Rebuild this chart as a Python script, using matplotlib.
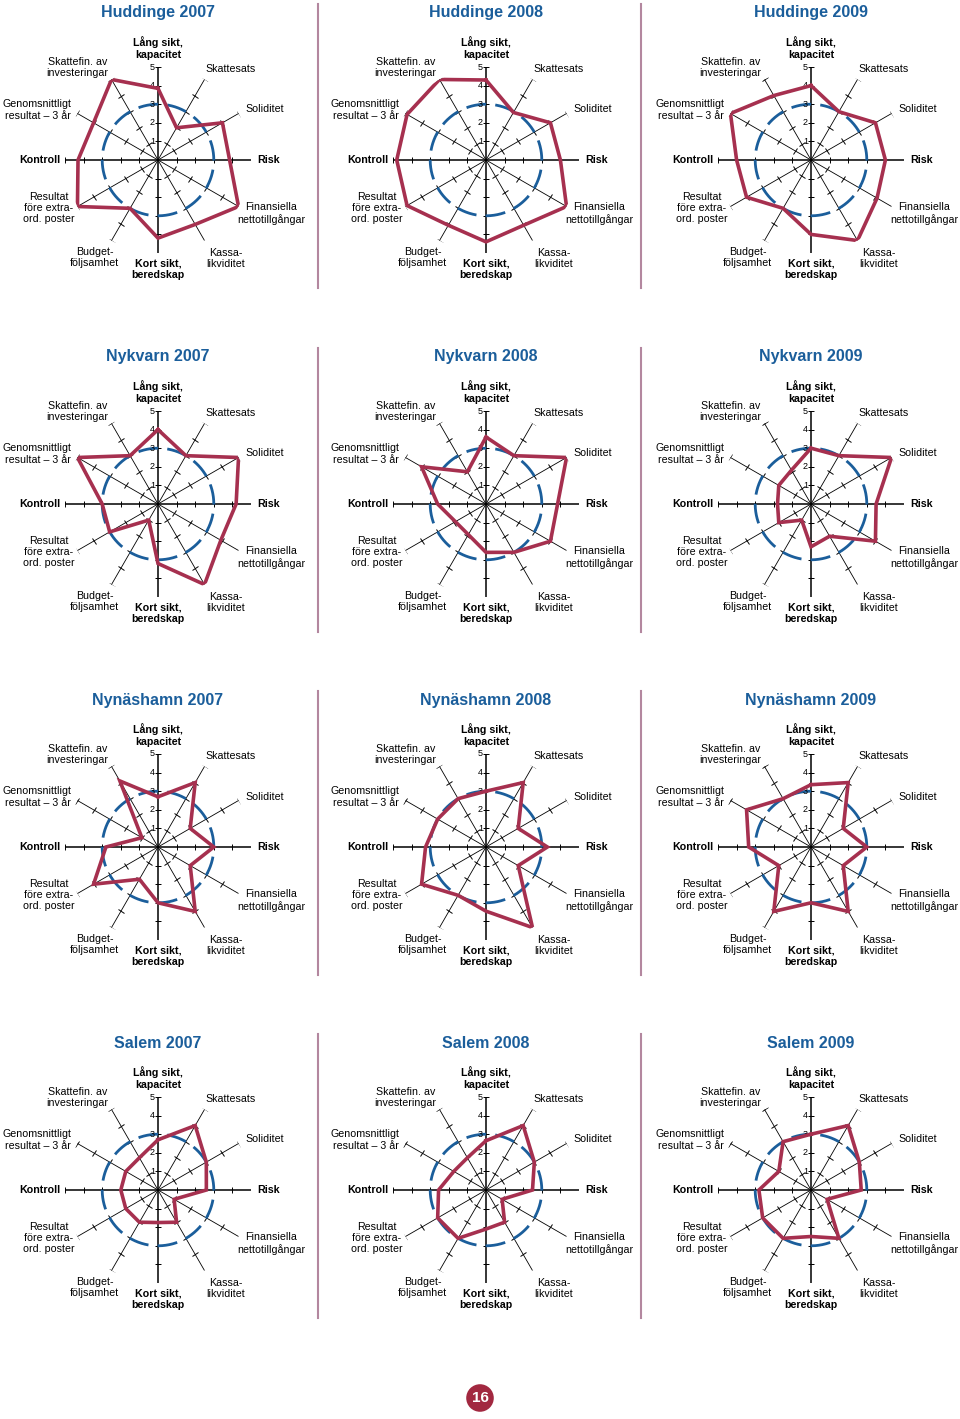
import numpy as np
import matplotlib.pyplot as plt
from matplotlib.markers import MarkerStyle
from matplotlib.transforms import Affine2D
from matplotlib.lines import Line2D

plt.rcParams['font.family'] = ['Liberation Sans', 'DejaVu Sans']

# Axlar i ordning medurs från toppen
kategorier = ['Lång sikt,\nkapacitet', 'Skattesats', 'Soliditet', 'Risk',
              'Finansiella\nnettotillgångar', 'Kassa-\nlikviditet', 'Kort sikt,\nberedskap',
              'Budget-\nföljsamhet', 'Resultat\nföre extra-\nord. poster', 'Kontroll',
              'Genomsnittligt\nresultat – 3 år', 'Skattefin. av\ninvesteringar']
fetstil = [True, False, False, True, False, False, True, False, False, True, False, False]

kommuner = ['Huddinge', 'Nykvarn', 'Nynäshamn', 'Salem']
ar = ['2007', '2008', '2009']
skala = [1, 2, 3, 4, 5]
snitt = 3

huddinge_2007 = [3.85, 2.0, 4.0, 3.85, 5.0, 4.0, 4.2, 3.0, 5.0, 4.3, 4.0, 5.0]
huddinge_2008 = [4.3, 2.95, 4.0, 4.0, 5.0, 4.05, 4.4, 4.05, 4.9, 4.8, 4.9, 5.0]
huddinge_2009 = [4.0, 3.0, 4.0, 4.0, 4.1, 5.0, 4.0, 3.0, 4.0, 4.0, 5.0, 4.0]

nykvarn_2007 = [4.0, 3.0, 5.0, 4.2, 3.9, 5.0, 3.2, 1.0, 3.0, 3.0, 5.0, 3.0]
nykvarn_2008 = [3.6, 3.0, 5.0, 3.85, 4.0, 3.0, 2.6, 1.9, 1.9, 2.6, 4.0, 2.0]
nykvarn_2009 = [3.0, 3.0, 5.0, 3.5, 4.0, 2.0, 2.3, 1.0, 2.0, 1.8, 2.0, 2.1]

nynashamn_2007 = [2.7, 4.0, 2.0, 3.0, 2.0, 4.0, 3.0, 2.0, 4.0, 2.8, 1.0, 4.1]
nynashamn_2008 = [3.0, 4.0, 2.0, 3.3, 2.0, 5.0, 3.45, 3.0, 4.0, 3.25, 3.0, 3.0]
nynashamn_2009 = [3.35, 4.0, 2.0, 3.0, 2.0, 4.0, 3.0, 4.0, 2.0, 3.35, 4.0, 3.0]

salem_2007 = [2.7, 4.0, 3.0, 2.6, 1.0, 2.0, 1.75, 2.0, 2.0, 2.0, 2.0, 2.0]
salem_2008 = [2.65, 4.0, 3.0, 2.5, 1.0, 2.0, 2.1, 3.0, 3.0, 2.55, 2.0, 2.0]
salem_2009 = [3.0, 4.0, 3.0, 2.7, 1.0, 3.0, 2.5, 3.0, 3.0, 2.8, 2.0, 3.0]

varden = [[huddinge_2007, huddinge_2008, huddinge_2009],
          [nykvarn_2007, nykvarn_2008, nykvarn_2009],
          [nynashamn_2007, nynashamn_2008, nynashamn_2009],
          [salem_2007, salem_2008, salem_2009]]

ROD = '#A6304F'
BLA = '#1B5E9B'
LILA = '#B3879F'

W, H = 960, 1419
fig = plt.figure(figsize=(W / 100, H / 100), dpi=100)

kol_x = [158, 486, 811]
rad_y = [160, 504, 847, 1190]
R = 93  # pixlar för r = 5

# etikettplacering (pixlar från axelns ände), justering
etikett_pos = [(0, 19, 'center'), (1, 10, 'left'), (7, 4, 'left'), (6, 0, 'left'),
               (33, -7, 'center'), (21, -18, 'center'), (0, -16, 'center'),
               (-17, -17, 'center'), (-29, -1.5, 'center'), (-5, 0, 'right'),
               (-40, 3.5, 'center'), (-34, 12, 'center')]

vinklar = np.radians(90 - 30 * np.arange(12))

for ri, kommun in enumerate(kommuner):
    for ci, year in enumerate(ar):
        cx, cy = kol_x[ci], rad_y[ri]
        ax = fig.add_axes([(cx - R) / W, 1 - (cy + R) / H, 2 * R / W, 2 * R / H],
                          projection='polar')
        ax.set_ylim(0, 5)
        ax.grid(False)
        ax.set_xticks([])
        ax.set_yticks([])
        ax.spines['polar'].set_visible(False)
        ax.patch.set_alpha(0)

        for i, th in enumerate(vinklar):
            huvud = i % 3 == 0
            ax.plot([th, th], [0, 5], color='black', lw=1.1 if huvud else 0.6, zorder=1)
            m = MarkerStyle('|', transform=Affine2D().rotate_deg(np.degrees(th)))
            ax.plot([th] * len(skala), skala, ls='none', marker=m, ms=5,
                    mew=0.7, color='black', zorder=1)

        for k in skala:
            ax.annotate(str(k), xy=(np.pi / 2, k), xytext=(-3, 0),
                        textcoords='offset pixels', ha='right', va='center',
                        fontsize=6.5, annotation_clip=False)

        t = np.linspace(0, 2 * np.pi, 300)
        ax.plot(t, np.full_like(t, snitt), color=BLA, lw=2.0, dashes=(7.2, 3.3), zorder=2)

        v = varden[ri][ci]
        ax.plot(np.append(vinklar, vinklar[0]), v + v[:1], color=ROD, lw=2.6,
                solid_joinstyle='miter', zorder=3)

        for i, th in enumerate(vinklar):
            dx, dy, ha = etikett_pos[i]
            ax.annotate(kategorier[i], xy=(th, 5), xytext=(dx, dy),
                        textcoords='offset pixels', ha=ha, va='center',
                        multialignment='center', fontsize=7.7,
                        fontweight='bold' if fetstil[i] else 'normal',
                        linespacing=1.15, annotation_clip=False)

        fig.text(cx / W, 1 - (cy - 147) / H, f'{kommun} {year}', ha='center',
                 va='center', fontsize=11.5, fontweight='bold', color=BLA)

    for sx in [318, 641]:
        cy = rad_y[ri]
        fig.add_artist(Line2D([sx / W, sx / W], [1 - (cy - 156) / H, 1 - (cy + 128) / H],
                              color=LILA, lw=1.5))

fig.text(480 / W, 1 - 1398 / H, '16', ha='center', va='center', color='white',
         fontsize=11, fontweight='bold',
         bbox=dict(boxstyle='circle,pad=0.35', fc='#A22840', ec='none'))

fig.savefig('out.png', dpi=100)
